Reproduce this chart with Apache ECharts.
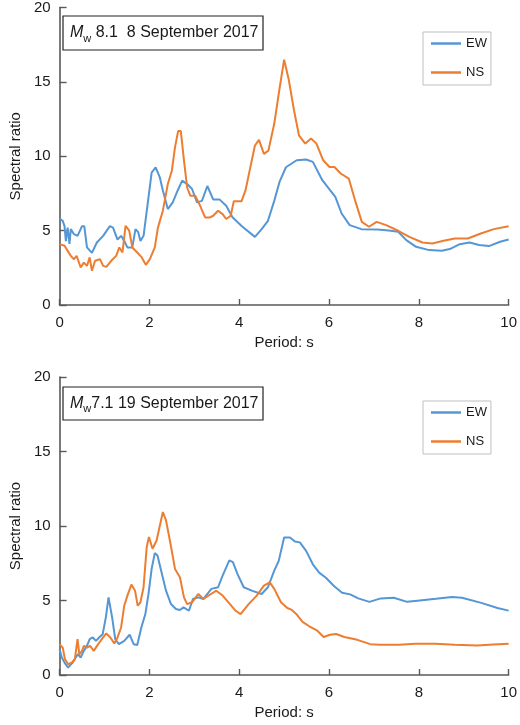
<!DOCTYPE html>
<html>
<head>
<meta charset="utf-8">
<script src="https://cdn.jsdelivr.net/npm/echarts@6/dist/echarts.min.js"></script>
<style>
  html, body { margin: 0; padding: 0; background: #fff; }
  #chart { width: 520px; height: 725px; }
</style>
</head>
<body>
<div id="chart"></div>
<script>
// period (s), spectral ratio
const ewSep8 = [
  [0, 5.8], [0.07, 5.66], [0.11, 5.3], [0.14, 4.3], [0.18, 5.2], [0.22, 4.1], [0.25, 5.1],
  [0.32, 4.76], [0.4, 4.65], [0.5, 5.3], [0.55, 5.3], [0.61, 3.87], [0.72, 3.5], [0.83, 4.2],
  [0.97, 4.65], [1.12, 5.3], [1.19, 5.2], [1.29, 4.4], [1.37, 4.65], [1.44, 4.3], [1.51, 3.87],
  [1.62, 3.87], [1.69, 5.1], [1.75, 4.9], [1.8, 4.3], [1.87, 4.65], [1.94, 6.3], [2.05, 8.9],
  [2.14, 9.26], [2.23, 8.6], [2.3, 7.7], [2.41, 6.45], [2.52, 6.9], [2.63, 7.7], [2.73, 8.36],
  [2.84, 8.13], [2.95, 7.8], [3.06, 6.9], [3.17, 7.0], [3.29, 8.0], [3.42, 7.1], [3.56, 7.1],
  [3.71, 6.67], [3.85, 5.9], [4.06, 5.3], [4.35, 4.58], [4.5, 5.1], [4.64, 5.66], [4.78, 7.0],
  [4.9, 8.3], [5.04, 9.26], [5.28, 9.73], [5.49, 9.78], [5.64, 9.62], [5.85, 8.39], [6.14, 7.27],
  [6.28, 6.15], [6.46, 5.37], [6.72, 5.1], [7.08, 5.08], [7.33, 5.01], [7.54, 4.92], [7.72, 4.36],
  [7.94, 3.91], [8.23, 3.69], [8.51, 3.65], [8.69, 3.76], [8.91, 4.09], [9.13, 4.2], [9.34, 4.03],
  [9.56, 3.96], [9.81, 4.25], [10, 4.4]
];
const nsSep8 = [
  [0, 4.09], [0.11, 3.98], [0.18, 3.64], [0.25, 3.3], [0.32, 3.08], [0.38, 3.3], [0.47, 2.52],
  [0.54, 2.85], [0.61, 2.63], [0.67, 3.2], [0.72, 2.3], [0.79, 2.97], [0.9, 3.08], [0.97, 2.63],
  [1.04, 2.56], [1.15, 2.97], [1.26, 3.3], [1.33, 3.87], [1.4, 3.53], [1.47, 5.33], [1.55, 5.0],
  [1.62, 3.87], [1.73, 3.53], [1.83, 3.2], [1.92, 2.7], [2.01, 3.08], [2.12, 3.87], [2.19, 5.2],
  [2.3, 6.34], [2.41, 8.13], [2.5, 9.03], [2.57, 10.6], [2.64, 11.69], [2.7, 11.69], [2.77, 9.7],
  [2.84, 7.9], [2.91, 7.35], [3.02, 7.35], [3.13, 6.67], [3.24, 5.89], [3.35, 5.89], [3.42, 6.0],
  [3.53, 6.34], [3.63, 6.11], [3.71, 5.78], [3.81, 6.0], [3.88, 6.97], [4.05, 6.97], [4.14, 7.7],
  [4.24, 9.15], [4.35, 10.72], [4.44, 11.1], [4.55, 10.16], [4.65, 10.38], [4.78, 12.18],
  [4.88, 14.2], [5.0, 16.49], [5.1, 15.2], [5.22, 13.09], [5.33, 11.41], [5.47, 10.85],
  [5.6, 11.19], [5.72, 10.85], [5.87, 9.73], [6.01, 9.28], [6.12, 9.28], [6.26, 8.84], [6.44, 8.5],
  [6.59, 6.93], [6.73, 5.59], [6.89, 5.26], [7.06, 5.59], [7.27, 5.37], [7.54, 4.99], [7.79, 4.58],
  [8.08, 4.2], [8.3, 4.14], [8.55, 4.32], [8.8, 4.47], [9.09, 4.47], [9.38, 4.81], [9.67, 5.1],
  [10, 5.3]
];
const ewSep19 = [
  [0, 1.73], [0.05, 1.17], [0.11, 0.83], [0.19, 0.49], [0.29, 0.83], [0.36, 1.17], [0.41, 1.4],
  [0.47, 1.17], [0.54, 1.62], [0.61, 1.96], [0.67, 2.4], [0.74, 2.52], [0.81, 2.29], [0.88, 2.52],
  [0.96, 2.74], [1.03, 3.87], [1.09, 5.21], [1.17, 3.87], [1.24, 2.4], [1.32, 2.07], [1.44, 2.29],
  [1.56, 2.7], [1.65, 2.07], [1.73, 2.02], [1.82, 3.19], [1.91, 4.09], [1.98, 5.44], [2.05, 7.12],
  [2.12, 8.18], [2.18, 8.02], [2.27, 6.9], [2.37, 5.66], [2.48, 4.76], [2.59, 4.43], [2.68, 4.36],
  [2.76, 4.54], [2.88, 4.31], [2.97, 5.1], [3.09, 5.21], [3.2, 5.1], [3.38, 5.78], [3.53, 5.89],
  [3.63, 6.67], [3.78, 7.69], [3.86, 7.57], [3.96, 6.79], [4.1, 5.89], [4.28, 5.66], [4.5, 5.44],
  [4.64, 5.89], [4.78, 7.0], [4.88, 7.66], [5.0, 9.23], [5.13, 9.23], [5.24, 8.96], [5.35, 8.9],
  [5.49, 8.33], [5.64, 7.43], [5.78, 6.87], [5.93, 6.53], [6.11, 5.97], [6.29, 5.52], [6.47, 5.41],
  [6.65, 5.14], [6.9, 4.91], [7.15, 5.14], [7.44, 5.18], [7.74, 4.91], [8.02, 5.0], [8.38, 5.11],
  [8.74, 5.23], [8.96, 5.18], [9.39, 4.84], [9.75, 4.5], [10, 4.32]
];
const nsSep19 = [
  [0, 2.07], [0.07, 1.84], [0.12, 1.06], [0.19, 0.72], [0.27, 0.83], [0.34, 1.06], [0.4, 2.4],
  [0.44, 1.39], [0.5, 1.62], [0.54, 1.96], [0.61, 1.84], [0.68, 1.96], [0.76, 1.62], [0.86, 2.07],
  [0.97, 2.52], [1.04, 2.79], [1.13, 2.52], [1.22, 2.11], [1.29, 2.52], [1.37, 3.19], [1.44, 4.65],
  [1.51, 5.33], [1.6, 6.07], [1.68, 5.66], [1.74, 4.65], [1.8, 4.88], [1.87, 5.89], [1.94, 8.58],
  [1.99, 9.26], [2.07, 8.47], [2.16, 9.03], [2.3, 10.94], [2.37, 10.38], [2.47, 8.81], [2.57, 7.12],
  [2.68, 6.56], [2.77, 5.21], [2.84, 4.76], [2.95, 4.88], [3.09, 5.44], [3.2, 5.1], [3.49, 5.66],
  [3.63, 5.33], [3.78, 4.81], [3.92, 4.31], [4.03, 4.09], [4.21, 4.76], [4.39, 5.33], [4.55, 6.0],
  [4.68, 6.22], [4.78, 5.78], [4.93, 4.88], [5.07, 4.5], [5.16, 4.39], [5.27, 4.1], [5.41, 3.56],
  [5.56, 3.27], [5.74, 2.97], [5.88, 2.55], [6.02, 2.7], [6.16, 2.75], [6.34, 2.55], [6.63, 2.36],
  [6.92, 2.07], [7.13, 2.03], [7.56, 2.03], [7.92, 2.09], [8.36, 2.09], [8.8, 2.03], [9.3, 1.98],
  [9.66, 2.05], [10, 2.09]
];

const componentNames = ['EW', 'NS'];
const eventLabels = [
  '{m|M}{w|w} 8.1  8 September 2017',
  '{m|M}{w|w}7.1 19 September 2017'
];

const ewColor = '#5596d4';
const nsColor = '#ed7d31';
const axisColor = '#595959';
const font = 'Liberation Sans, Arial, sans-serif';

const chart = echarts.init(document.getElementById('chart'));

function xAxisFor(i) {
  return {
    gridIndex: i, type: 'value', min: 0, max: 10, interval: 2,
    name: 'Period: s', nameLocation: 'middle', nameGap: 30,
    nameTextStyle: { fontFamily: font, fontSize: 15, color: '#1a1a1a' },
    axisLine: { lineStyle: { color: axisColor, width: 1.6 } },
    axisTick: { inside: true, length: 6, lineStyle: { color: axisColor, width: 1.4 } },
    axisLabel: { fontFamily: font, fontSize: 15, color: '#1a1a1a', margin: 10 },
    splitLine: { show: false }
  };
}
function yAxisFor(i) {
  return {
    gridIndex: i, type: 'value', min: 0, max: 20, interval: 5,
    name: 'Spectral ratio', nameLocation: 'middle', nameGap: 33,
    nameTextStyle: { fontFamily: font, fontSize: 15, color: '#1a1a1a' },
    axisLine: { show: true, lineStyle: { color: axisColor, width: 1.6 } },
    axisTick: { show: true, inside: true, length: 7, lineStyle: { color: axisColor, width: 1.4 } },
    axisLabel: { fontFamily: font, fontSize: 15, color: '#1a1a1a', margin: 9 },
    splitLine: { show: false }
  };
}
function legendFor(top) {
  return {
    data: componentNames, orient: 'vertical', left: 423, top: top,
    itemWidth: 30, itemHeight: 2.5, icon: 'rect', itemGap: 16,
    padding: [5, 4, 6, 8],
    borderColor: '#bfbfbf', borderWidth: 1,
    textStyle: { fontFamily: font, fontSize: 13, color: '#1a1a1a' }
  };
}
function labelBox(y, h, text) {
  return {
    type: 'group',
    children: [
      { type: 'rect', shape: { x: 63, y: y, width: 200, height: h },
        style: { fill: '#fff', stroke: '#222', lineWidth: 1.2 } },
      { type: 'text', x: 70, y: y + h / 2,
        style: {
          text: text, verticalAlign: 'middle', fill: '#1a1a1a',
          fontFamily: font, fontSize: 16, lineHeight: 22,
          rich: {
            m: { fontFamily: font, fontSize: 16, fontStyle: 'italic', lineHeight: 22 },
            w: { fontFamily: font, fontSize: 11, lineHeight: 22, verticalAlign: 'bottom' }
          }
        } }
    ]
  };
}
function line(name, data, i, color) {
  return {
    name: name, type: 'line', xAxisIndex: i, yAxisIndex: i, data: data,
    symbol: 'none', smooth: false, silent: true,
    lineStyle: { color: color, width: 2 }, itemStyle: { color: color }
  };
}

chart.setOption({
  animation: false,
  grid: [
    { left: 49, right: 8, top: 7, height: 298 },
    { left: 49, right: 8, top: 377, height: 298 }
  ],
  xAxis: [xAxisFor(0), xAxisFor(1)],
  yAxis: [yAxisFor(0), yAxisFor(1)],
  legend: [legendFor(32), legendFor(401)],
  graphic: [labelBox(16, 34, eventLabels[0]), labelBox(387, 33, eventLabels[1])],
  series: [
    line('EW', ewSep8, 0, ewColor),
    line('NS', nsSep8, 0, nsColor),
    line('EW', ewSep19, 1, ewColor),
    line('NS', nsSep19, 1, nsColor)
  ]
});
</script>
</body>
</html>
